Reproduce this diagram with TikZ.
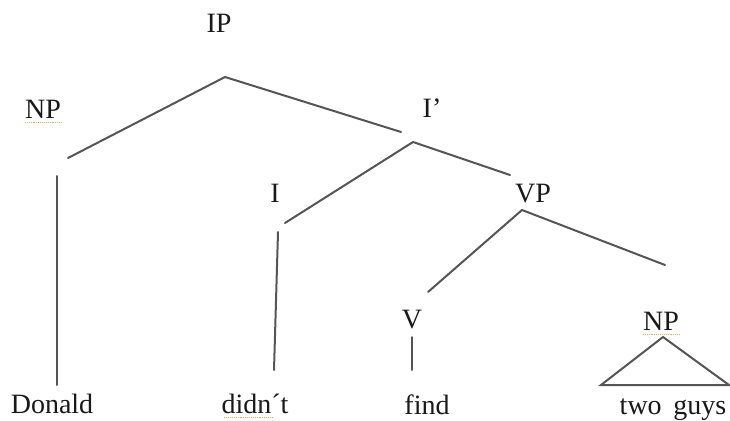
\documentclass[tikz,border=0pt]{standalone}
\usepackage{fontspec}
\setmainfont{Liberation Serif}
\definecolor{branch}{RGB}{85,85,85}
\definecolor{squig}{RGB}{235,170,110}
\tikzset{
  lbl/.style={inner sep=0pt, anchor=base, font=\fontsize{28}{32}\selectfont, text=black!90},
  edge/.style={draw=branch, line width=2pt, line cap=round},
  spell/.style={draw=squig, line width=0.9pt, densely dotted}
}
\begin{document}
\begin{tikzpicture}[x=1pt,y=-1pt]
\useasboundingbox (0,0) rectangle (730,420);
% labels
\node[lbl] (ip) at (219,33) {IP};
\node[lbl] (np1) at (43,118) {NP};
\node[lbl] (ibar) at (432,117) {I’};
\node[lbl] (i) at (275,202) {I};
\node[lbl] (vp) at (533,202) {VP};
\node[lbl] (v) at (412,328) {V};
\node[lbl] (np2) at (661,330) {NP};
\node[lbl] (donald) at (52,413) {Donald};
\node[lbl] (didnt) at (255,413) {didn´t};
\node[lbl] (find) at (427,414) {find};
\node[lbl] (guys) at (673,414) {two\, guys};
% branch points
\coordinate (ipTop) at (225,77);
\coordinate (npEnd) at (68,158);
\coordinate (ibarEnd) at (401,132);
\coordinate (ibarTop) at (413,142);
\coordinate (iEnd) at (285,223);
\coordinate (vpEnd) at (510,175);
\coordinate (np1Top) at (57,176);
\coordinate (np1Bot) at (57,385);
\coordinate (iTop) at (278,232);
\coordinate (iBot) at (274,370);
\coordinate (vpTop) at (522,210);
\coordinate (vEnd) at (428,292);
\coordinate (npvEnd) at (665,265);
\coordinate (vTop) at (412,337);
\coordinate (vBot) at (412,370);
\coordinate (triTop) at (663,337);
\coordinate (triL) at (601,385);
\coordinate (triR) at (729,385);
% branches
\draw[edge] (npEnd) -- (ipTop) -- (ibarEnd);
\draw[edge] (iEnd) -- (ibarTop) -- (vpEnd);
\draw[edge] (np1Top) -- (np1Bot);
\draw[edge] (iTop) -- (iBot);
\draw[edge] (vEnd) -- (vpTop) -- (npvEnd);
\draw[edge] (vTop) -- (vBot);
\draw[edge, line join=miter] (triL) -- (triTop) -- (triR) -- cycle;
% spell-check marks
\draw[spell] ([yshift=-4pt]np1.base west) -- ([yshift=-4pt]np1.base east);
\draw[spell] ([yshift=-4pt,xshift=3pt]didnt.base west) -- ([yshift=-4pt,xshift=-16pt]didnt.base east);
\draw[spell] ([yshift=-4pt]np2.base west) -- ([yshift=-4pt]np2.base east);
\end{tikzpicture}
\end{document}
